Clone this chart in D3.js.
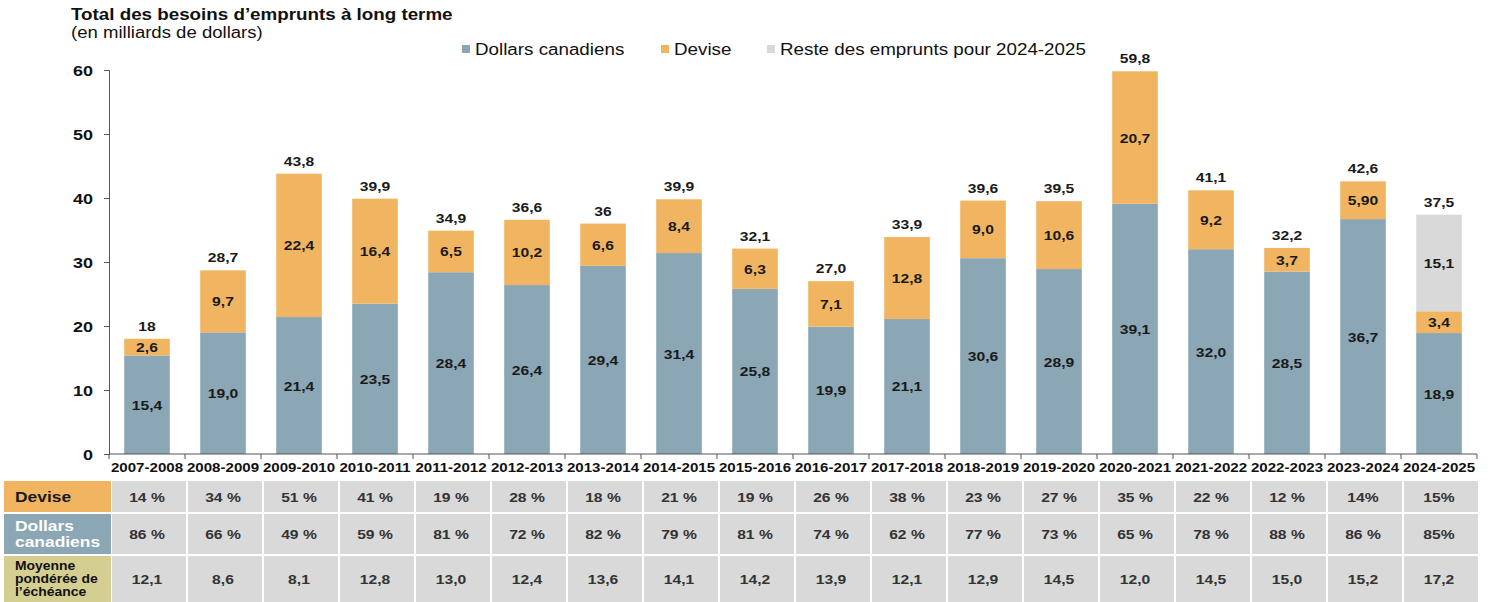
<!DOCTYPE html>
<html lang="fr">
<head>
<meta charset="UTF-8">
<title>Total des besoins d’emprunts à long terme</title>
<script src="https://d3js.org/d3.v7.min.js"></script>
<style>
  body { margin: 0; background: #fff; font-family: "Liberation Sans", Arial, sans-serif; }
  svg text { font-family: "Liberation Sans", Arial, sans-serif; }
</style>
</head>
<body>
<svg id="chart"></svg>
<script>
const years = ["2007-2008","2008-2009","2009-2010","2010-2011","2011-2012","2012-2013","2013-2014","2014-2015","2015-2016","2016-2017","2017-2018","2018-2019","2019-2020","2020-2021","2021-2022","2022-2023","2023-2024","2024-2025"];
const cad = [15.4,19.0,21.4,23.5,28.4,26.4,29.4,31.4,25.8,19.9,21.1,30.6,28.9,39.1,32.0,28.5,36.7,18.9];
const devise = [2.6,9.7,22.4,16.4,6.5,10.2,6.6,8.4,6.3,7.1,12.8,9.0,10.6,20.7,9.2,3.7,5.9,3.4];
const reste = [0,0,0,0,0,0,0,0,0,0,0,0,0,0,0,0,0,15.1];
const cadLabels = ["15,4","19,0","21,4","23,5","28,4","26,4","29,4","31,4","25,8","19,9","21,1","30,6","28,9","39,1","32,0","28,5","36,7","18,9"];
const deviseLabels = ["2,6","9,7","22,4","16,4","6,5","10,2","6,6","8,4","6,3","7,1","12,8","9,0","10,6","20,7","9,2","3,7","5,90","3,4"];
const resteLabels = ["","","","","","","","","","","","","","","","","","15,1"];
const totalLabels = ["18","28,7","43,8","39,9","34,9","36,6","36","39,9","32,1","27,0","33,9","39,6","39,5","59,8","41,1","32,2","42,6","37,5"];
const yTicks = [0,10,20,30,40,50,60];

const pctDevise = ["14 %","34 %","51 %","41 %","19 %","28 %","18 %","21 %","19 %","26 %","38 %","23 %","27 %","35 %","22 %","12 %","14%","15%"];
const pctCad = ["86 %","66 %","49 %","59 %","81 %","72 %","82 %","79 %","81 %","74 %","62 %","77 %","73 %","65 %","78 %","88 %","86 %","85%"];
const echeance = ["12,1","8,6","8,1","12,8","13,0","12,4","13,6","14,1","14,2","13,9","12,1","12,9","14,5","12,0","14,5","15,0","15,2","17,2"];

const width = 1491, height = 602;
const colors = { cad: "#8BA6B5", devise: "#F1B562", reste: "#D9D9D9" };
const SX = 1.16; // le texte d'origine est un peu étiré à l'horizontale

const svg = d3.select("#chart").attr("width", width).attr("height", height);

// place un texte à (px,py) avec l'étirement horizontal
function stretch(sel) {
  sel.each(function () {
    const t = d3.select(this);
    const px = +t.attr("x") || 0, py = +t.attr("y") || 0;
    t.attr("x", 0).attr("y", 0).attr("transform", `translate(${px},${py}) scale(${SX},1)`);
  });
  return sel;
}

const x = d3.scaleBand().domain(years).range([109, 1477]).paddingInner(0.4).paddingOuter(0.2);
const y = d3.scaleLinear().domain([0, 60]).range([454, 70]);

// titre
stretch(svg.append("text").attr("x", 71).attr("y", 20).attr("font-size", 16.2).attr("font-weight", "bold").attr("fill", "#111")
  .text("Total des besoins d’emprunts à long terme"));
stretch(svg.append("text").attr("x", 71).attr("y", 38).attr("font-size", 16).attr("fill", "#111")
  .text("(en milliards de dollars)"));

// légende
const legend = [
  { name: "Dollars canadiens", color: colors.cad, x: 462 },
  { name: "Devise", color: colors.devise, x: 661 },
  { name: "Reste des emprunts pour 2024-2025", color: colors.reste, x: 767 }
];
legend.forEach(l => {
  svg.append("rect").attr("x", l.x).attr("y", 45).attr("width", 8).attr("height", 8).attr("fill", l.color);
  stretch(svg.append("text").attr("x", l.x + 13).attr("y", 55).attr("font-size", 16.2).attr("fill", "#111").text(l.name));
});

// barres
const stacked = years.map((yr, i) => ({ yr, i, segs: [
  { key: "cad", y0: 0, y1: cad[i], label: cadLabels[i] },
  { key: "devise", y0: cad[i], y1: cad[i] + devise[i], label: deviseLabels[i] },
  { key: "reste", y0: cad[i] + devise[i], y1: cad[i] + devise[i] + reste[i], label: resteLabels[i] }
]}));

const g = svg.append("g");
const cols = g.selectAll("g.col").data(stacked).enter().append("g").attr("class", "col");
cols.selectAll("rect").data(d => d.segs.filter(s => s.y1 > s.y0).map(s => ({ ...s, yr: d.yr })))
  .enter().append("rect")
  .attr("x", d => x(d.yr)).attr("width", x.bandwidth())
  .attr("y", d => y(d.y1)).attr("height", d => y(d.y0) - y(d.y1))
  .attr("fill", d => colors[d.key]);
stretch(cols.selectAll("text.seg").data(d => d.segs.filter(s => s.y1 > s.y0).map(s => ({ ...s, yr: d.yr })))
  .enter().append("text").attr("class", "seg")
  .attr("x", d => x(d.yr) + x.bandwidth() / 2)
  .attr("y", d => (y(d.y0) + y(d.y1)) / 2 + 5)
  .attr("text-anchor", "middle").attr("font-size", 13.5).attr("font-weight", "bold").attr("fill", "#1a1a1a")
  .text(d => d.label));
stretch(cols.append("text")
  .attr("x", d => x(d.yr) + x.bandwidth() / 2)
  .attr("y", d => y(cad[d.i] + devise[d.i] + reste[d.i]) - 8)
  .attr("text-anchor", "middle").attr("font-size", 13.5).attr("font-weight", "bold").attr("fill", "#1a1a1a")
  .text(d => totalLabels[d.i]));

// axes
const yAxis = svg.append("g").attr("transform", "translate(109,0)")
  .call(d3.axisLeft(y).tickValues(yTicks).tickSize(5).tickFormat(d3.format("d")));
yAxis.select(".domain").attr("stroke", "#555");
yAxis.selectAll(".tick line").attr("stroke", "#555");
yAxis.selectAll(".tick text").attr("font-size", 15.5).attr("font-weight", "bold").attr("fill", "#111")
  .attr("x", null).attr("dy", null).attr("transform", `translate(-16,5.5) scale(${SX},1)`)
  .style("font-family", "'Liberation Sans', Arial, sans-serif");

const xAxis = svg.append("g").attr("transform", "translate(0,454)");
xAxis.append("line").attr("x1", 109).attr("x2", 1477).attr("stroke", "#555");
xAxis.selectAll("line.tk").data(years.concat(["end"])).enter().append("line").attr("class", "tk")
  .attr("x1", (d, i) => i < years.length ? x(d) - x.step() * 0.2 : 1477)
  .attr("x2", (d, i) => i < years.length ? x(d) - x.step() * 0.2 : 1477)
  .attr("y1", 0).attr("y2", 5).attr("stroke", "#555");
stretch(xAxis.selectAll("text").data(years).enter().append("text")
  .attr("x", d => x(d) + x.bandwidth() / 2).attr("y", 18)
  .attr("text-anchor", "middle").attr("font-size", 13).attr("font-weight", "bold").attr("fill", "#111")
  .text(d => d));

// tableau
const rows = [
  { head: ["Devise"], fill: colors.devise, color: "#1a1a1a", size: 15, vals: pctDevise, y0: 481, y1: 512 },
  { head: ["Dollars", "canadiens"], fill: "#8BA6B5", color: "#fff", size: 15, vals: pctCad, y0: 514, y1: 554 },
  { head: ["Moyenne", "pondérée de", "l’échéance"], fill: "#D4CF91", color: "#111", size: 12, vals: echeance, y0: 556, y1: 602 }
];
const tbl = svg.append("g");
rows.forEach(r => {
  tbl.append("rect").attr("x", 4).attr("y", r.y0).attr("width", 107).attr("height", r.y1 - r.y0).attr("fill", r.fill);
  const lh = r.size + 1;
  const mid = (r.y0 + r.y1) / 2;
  r.head.forEach((t, k) => {
    stretch(tbl.append("text").attr("x", 15)
      .attr("y", mid + (k - (r.head.length - 1) / 2) * lh + r.size * 0.36)
      .attr("font-size", r.size).attr("font-weight", "bold").attr("fill", r.color).text(t));
  });
  years.forEach((yr, i) => {
    const cx = x(yr) - x.step() * 0.2;
    tbl.append("rect").attr("x", cx + 3).attr("y", r.y0).attr("width", x.step() - 2).attr("height", r.y1 - r.y0).attr("fill", "#D9D9D9");
    stretch(tbl.append("text").attr("x", x(yr) + x.bandwidth() / 2).attr("y", mid + 5)
      .attr("text-anchor", "middle").attr("font-size", 13.5).attr("font-weight", "bold").attr("fill", "#333")
      .text(r.vals[i]));
  });
});
</script>
</body>
</html>
